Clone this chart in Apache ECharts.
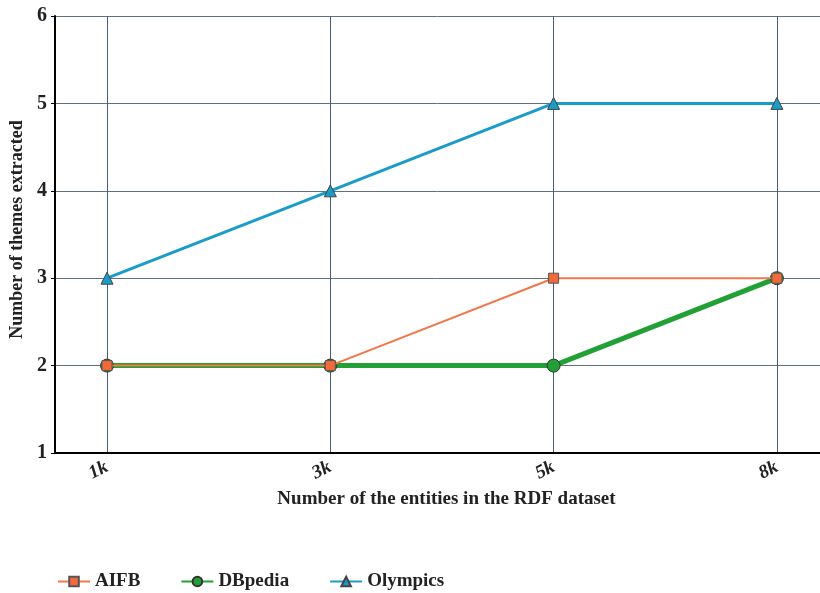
<!DOCTYPE html>
<html>
<head>
<meta charset="utf-8">
<script src="https://cdn.jsdelivr.net/npm/echarts@6/dist/echarts.min.js"></script>
<style>
  html, body { margin: 0; padding: 0; background: #fff; }
  #chart { width: 820px; height: 593px; }
</style>
</head>
<body>
<div id="chart"></div>
<script>
// 数据
const categories = ['1k', '3k', '5k', '8k']
const aifb = [2, 2, 3, 3]
const dbpedia = [2, 2, 2, 3]
const olympics = [3, 4, 5, 5]

const serif = '"Liberation Serif", "DejaVu Serif", serif'
const chart = echarts.init(document.getElementById('chart'))

const toPairs = arr => arr.map((v, i) => [i, v])

const option = {
  animation: false,
  backgroundColor: '#fff',
  grid: { left: 55, right: 0, top: 16, bottom: 140, containLabel: false, outerBoundsMode: 'none' },
  legend: {
    data: ['AIFB', 'DBpedia', 'Olympics'],
    left: 52,
    top: 567,
    itemWidth: 32,
    itemHeight: 12,
    itemGap: 40,
    textStyle: { fontFamily: serif, fontWeight: 'bold', fontSize: 19, color: '#222' }
  },
  xAxis: {
    type: 'value',
    min: -0.233,
    max: 3.193,
    name: 'Number of the entities in the RDF dataset',
    nameLocation: 'middle',
    nameGap: 36,
    nameTextStyle: { fontFamily: serif, fontWeight: 'bold', fontSize: 19, color: '#222', padding: [0, 0, 0, 18] },
    axisLine: { onZero: false, lineStyle: { color: '#000', width: 2 } },
    axisTick: { show: false, customValues: [0, 1, 2, 3] },
    axisLabel: {
      customValues: [0, 1, 2, 3],
      formatter: v => categories[Math.round(v)],
      rotate: 27,
      margin: 13,
      fontFamily: serif, fontWeight: 'bold', fontStyle: 'italic', fontSize: 19, color: '#222'
    },
    splitLine: { show: true, lineStyle: { color: '#46607a', width: 1 } }
  },
  yAxis: {
    type: 'value',
    min: 1,
    max: 6,
    interval: 1,
    name: 'Number of themes extracted',
    nameLocation: 'middle',
    nameGap: 28,
    nameTextStyle: { fontFamily: serif, fontWeight: 'bold', fontSize: 18, color: '#222', padding: [0, 0, 0, 10] },
    axisLine: { show: true, onZero: false, lineStyle: { color: '#000', width: 2 } },
    axisTick: { show: true, length: 4, lineStyle: { color: '#000' } },
    axisLabel: { fontFamily: serif, fontWeight: 'bold', fontSize: 20, color: '#222', margin: 8 },
    splitLine: { lineStyle: { color: '#5e7080', width: 1 } }
  },
  series: [
    {
      name: 'DBpedia',
      type: 'line',
      data: toPairs(dbpedia),
      color: '#22a035',
      lineStyle: { width: 5, color: '#22a035' },
      symbol: 'circle',
      symbolSize: 13,
      itemStyle: { color: '#22a035', borderColor: '#333', borderWidth: 1 },
      z: 2
    },
    {
      name: 'AIFB',
      type: 'line',
      data: toPairs(aifb),
      color: '#f26a3c',
      lineStyle: { width: 2, color: '#f2774a' },
      symbol: 'rect',
      symbolSize: 10,
      itemStyle: { color: '#f26a3c', borderColor: '#555', borderWidth: 1 },
      z: 3
    },
    {
      name: 'Olympics',
      type: 'line',
      data: toPairs(olympics),
      color: '#1a9cc9',
      lineStyle: { width: 3, color: '#1a9cc9' },
      symbol: 'triangle',
      symbolSize: 12,
      itemStyle: { color: '#1a9cc9', borderColor: '#444', borderWidth: 1 },
      z: 4
    }
  ]
}

chart.setOption(option)
</script>
</body>
</html>
